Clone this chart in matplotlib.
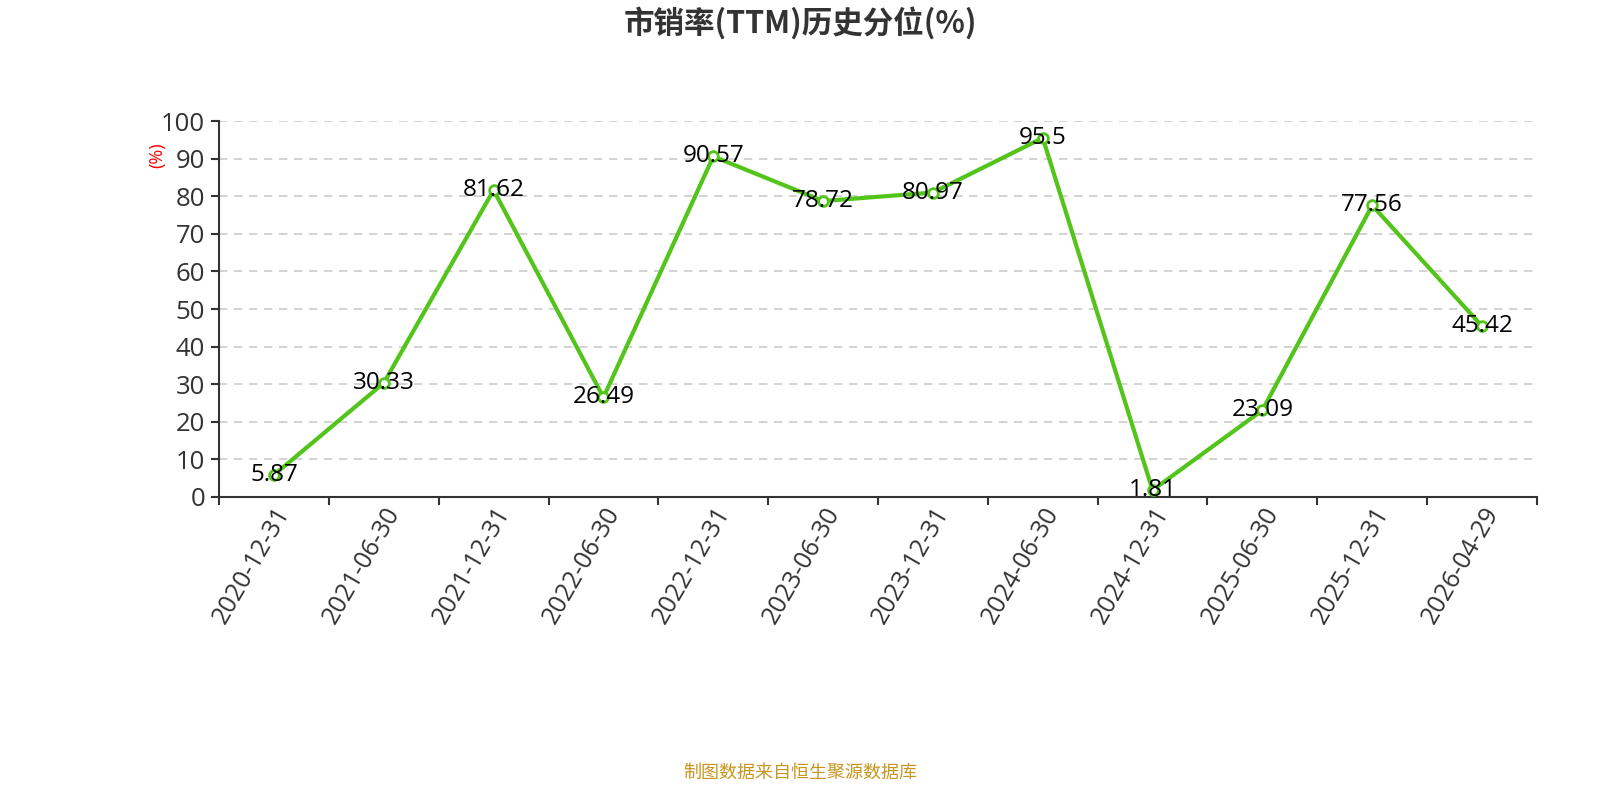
import matplotlib
matplotlib.use("Agg")
import matplotlib.pyplot as plt
import numpy as np

plt.rcParams['font.family'] = ['Open Sans', 'Noto Sans CJK SC', 'DejaVu Sans']

dates = ["2020-12-31", "2021-06-30", "2021-12-31", "2022-06-30", "2022-12-31",
         "2023-06-30", "2023-12-31", "2024-06-30", "2024-12-31", "2025-06-30",
         "2025-12-31", "2026-04-29"]
values = [5.87, 30.33, 81.62, 26.49, 90.57, 78.72, 80.97, 95.5, 1.81, 23.09, 77.56, 45.42]
labels = ["5.87", "30.33", "81.62", "26.49", "90.57", "78.72", "80.97", "95.5",
          "1.81", "23.09", "77.56", "45.42"]

fig = plt.figure(figsize=(16, 8), dpi=100)
ax = fig.add_axes([0.1369, 0.37875, 0.8237, 0.47])

x = np.arange(len(dates))
ax.plot(x, values, color="#52C41A", lw=3, marker="o", ms=7,
        mfc="white", mec="#52C41A", mew=2, zorder=3)
for xi, v, s in zip(x, values, labels):
    ax.text(xi, v, s, ha="center", va="center", fontsize=17.5, color="black", zorder=4)

ax.set_xlim(-0.5, len(dates) - 0.5)
ax.set_ylim(0, 100)
ax.set_yticks(range(0, 101, 10))
ax.set_xticks(np.arange(-0.5, len(dates), 1.0), minor=False)
ax.set_xticklabels([])
ax.set_xticks(x, minor=True)
ax.set_xticklabels(dates, minor=True, rotation=60, ha="right", va="top",
                   rotation_mode="anchor", fontsize=18, color="#333333")
ax.tick_params(axis="x", which="minor", length=0, pad=4)
ax.tick_params(axis="x", which="major", length=6, width=1.5, color="#333333")
ax.tick_params(axis="y", length=6, width=1.5, color="#333333", labelsize=18.5,
               labelcolor="#333333", pad=4)

for sp in ["top", "right"]:
    ax.spines[sp].set_visible(False)
for sp in ["left", "bottom"]:
    ax.spines[sp].set_color("#333333")
    ax.spines[sp].set_linewidth(1.5)

for t in range(10, 101, 10):
    ax.axhline(t, xmin=0, xmax=1, color="#cccccc", lw=1.2, ls=(0, (5, 4)),
               zorder=1, clip_on=True)

fig.text(0.098, 0.806, "(%)", color="red", fontsize=13, rotation=90,
         ha="center", va="center")
fig.text(0.5, 0.971, "市销率(TTM)历史分位(%)", ha="center", va="center",
         fontsize=22, fontweight="bold", color="#333333",
         family=['Noto Sans CJK SC', 'DejaVu Sans'])
fig.text(0.5, 0.034, "制图数据来自恒生聚源数据库", ha="center", va="center",
         fontsize=13, color="#C8961E", family=['Noto Sans CJK SC', 'DejaVu Sans'])

fig.savefig("out.png", dpi=100, facecolor="white")
